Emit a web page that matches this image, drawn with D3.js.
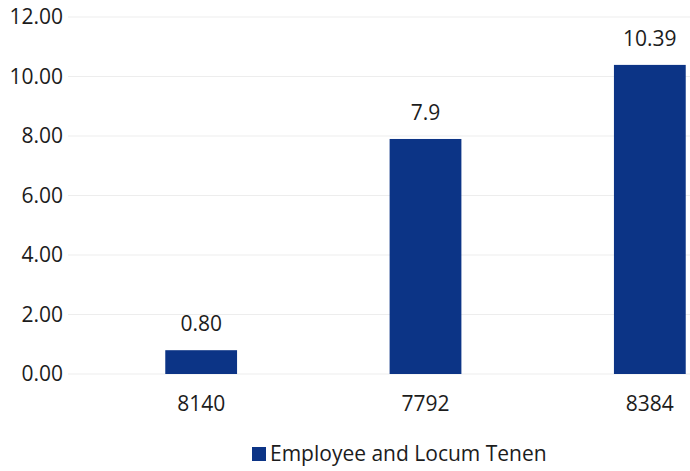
<!DOCTYPE html>
<html>
<head>
<meta charset="utf-8">
<script src="https://cdn.jsdelivr.net/npm/d3@7"></script>
<style>
  body { margin: 0; background: #fff; }
  text { font-family: "Open Sans", sans-serif; fill: #1c1c1c; }
</style>
</head>
<body>
<svg id="chart" width="690" height="471"></svg>
<script>
const categories = ["8140", "7792", "8384"];
const values = [0.80, 7.9, 10.39];
const valueLabels = ["0.80", "7.9", "10.39"];
const yTicks = [0, 2, 4, 6, 8, 10, 12];
const seriesName = "Employee and Locum Tenen";

const svg = d3.select("#chart");
const barColor = "#0c3486";
const fontSize = 21;

const x = d3.scaleBand()
  .domain(categories)
  .range([89, 762])
  .paddingInner(0.68)
  .paddingOuter(0.34);

const y = d3.scaleLinear()
  .domain([0, 12])
  .range([374, 17]);

// gridlines
svg.append("g")
  .selectAll("line")
  .data(yTicks)
  .join("line")
  .attr("x1", 68)
  .attr("x2", 690)
  .attr("y1", d => y(d))
  .attr("y2", d => y(d))
  .attr("stroke", "#ededed")
  .attr("stroke-width", 1);

// y tick labels
svg.append("g")
  .selectAll("text")
  .data(yTicks)
  .join("text")
  .attr("x", 63)
  .attr("y", d => y(d))
  .attr("dy", "0.35em")
  .attr("text-anchor", "end")
  .attr("font-size", fontSize)
  .text(d => d3.format(".2f")(d));

// bars
svg.append("g")
  .selectAll("rect")
  .data(values)
  .join("rect")
  .attr("x", (d, i) => x(categories[i]))
  .attr("y", d => y(d))
  .attr("width", x.bandwidth())
  .attr("height", d => y(0) - y(d))
  .attr("fill", barColor);

// value labels
svg.append("g")
  .selectAll("text")
  .data(values)
  .join("text")
  .attr("x", (d, i) => x(categories[i]) + x.bandwidth() / 2)
  .attr("y", d => y(d) - 19)
  .attr("text-anchor", "middle")
  .attr("font-size", fontSize)
  .text((d, i) => valueLabels[i]);

// category labels
svg.append("g")
  .selectAll("text")
  .data(categories)
  .join("text")
  .attr("x", d => x(d) + x.bandwidth() / 2)
  .attr("y", 404)
  .attr("dy", "0.35em")
  .attr("text-anchor", "middle")
  .attr("font-size", fontSize)
  .text(d => d);

// legend
const legend = svg.append("g").attr("transform", "translate(252,447)");
legend.append("rect")
  .attr("width", 14)
  .attr("height", 14)
  .attr("fill", barColor);
legend.append("text")
  .attr("x", 18)
  .attr("y", 7)
  .attr("dy", "0.35em")
  .attr("font-size", fontSize)
  .text(seriesName);
</script>
</body>
</html>
